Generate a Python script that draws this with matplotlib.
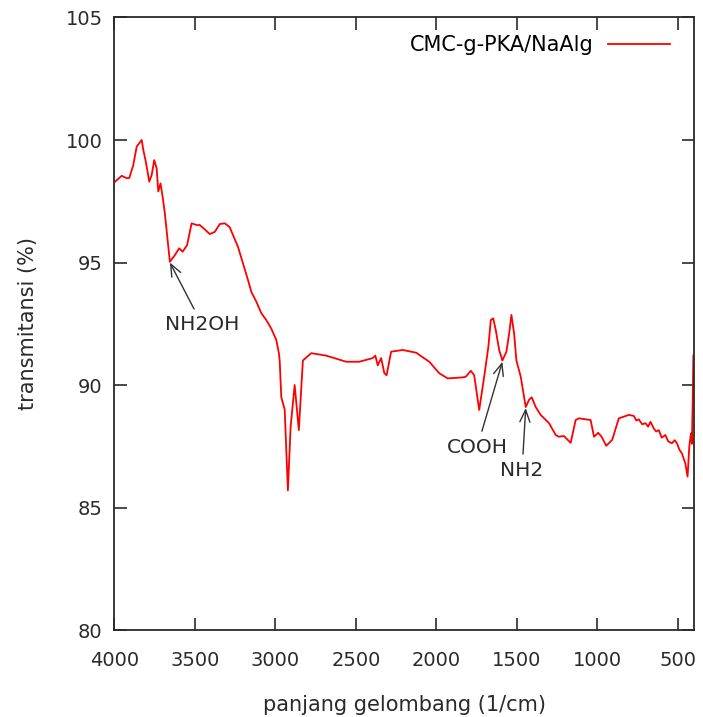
import matplotlib
matplotlib.use("Agg")
import matplotlib.pyplot as plt

wavenumber = [3995, 3954, 3923, 3907, 3882, 3861, 3845, 3830, 3820, 3804, 3783, 3768,
              3752, 3737, 3727, 3713, 3700, 3686, 3655, 3624, 3597, 3576, 3548, 3520,
              3489, 3469, 3438, 3407, 3376, 3345, 3314, 3283, 3263, 3232, 3201, 3170,
              3149, 3118, 3087, 3056, 3025, 2994, 2978, 2973, 2963, 2942, 2922, 2905,
              2880, 2854, 2829, 2777, 2684, 2560, 2478, 2395, 2379, 2364, 2343, 2323,
              2309, 2281, 2209, 2126, 2044, 1982, 1930, 1838, 1817, 1786, 1765, 1734,
              1703, 1677, 1662, 1647, 1631, 1610, 1590, 1565, 1548, 1534, 1517, 1503,
              1476, 1445, 1424, 1408, 1383, 1352, 1300, 1259, 1240, 1208, 1166, 1135,
              1115, 1042, 1021, 995, 974, 945, 908, 867, 836, 805, 774, 758, 743, 722,
              701, 685, 670, 650, 635, 619, 600, 578, 560, 537, 520, 506, 490, 475, 454,
              440, 429, 419, 413, 408, 404]
transmittance = [98.30, 98.54, 98.44, 98.45, 98.98, 99.73, 99.87, 100.0, 99.60, 99.10, 98.30, 98.57,
                 99.18, 98.84, 97.90, 98.23, 97.69, 97.00, 95.03, 95.30, 95.58, 95.44, 95.71, 96.60,
                 96.53, 96.53, 96.35, 96.16, 96.25, 96.57, 96.60, 96.44, 96.12, 95.64, 94.97, 94.29,
                 93.80, 93.40, 92.93, 92.65, 92.30, 91.84, 91.30, 91.0, 89.5, 89.0, 85.7, 88.3,
                 90.0, 88.16, 91.0, 91.3, 91.2, 90.95, 90.95, 91.1, 91.2, 90.8, 91.1, 90.48,
                 90.4, 91.36, 91.43, 91.32, 90.95, 90.48, 90.27, 90.31, 90.34, 90.58, 90.4, 88.98,
                 90.34, 91.56, 92.65, 92.72, 92.24, 91.43, 91.0, 91.36, 92.1, 92.86, 92.1, 91.0,
                 90.34, 89.1, 89.4, 89.5, 89.1, 88.78, 88.44, 87.96, 87.89, 87.92, 87.64, 88.57,
                 88.64, 88.57, 87.89, 88.05, 87.89, 87.52, 87.76, 88.64, 88.71, 88.78, 88.74, 88.55, 88.6, 88.4,
                 88.44, 88.3, 88.5, 88.23, 88.1, 88.16, 87.85, 87.96, 87.7, 87.62, 87.75, 87.62, 87.35, 87.21, 86.8,
                 86.26, 87.5, 88.03, 87.6, 89.4, 91.2]

x_ticks = [4000, 3500, 3000, 2500, 2000, 1500, 1000, 500]
y_ticks = [80, 85, 90, 95, 100, 105]

annotations = [
    ("NH2OH", (3655, 95.0), (3453, 92.45)),
    ("COOH", (1590, 90.95), (1747, 87.45)),
    ("NH2", (1445, 89.06), (1468, 86.51)),
]

plt.rcParams["font.family"] = ["DejaVu Sans"]
text_color = "#2a2a2a"

fig = plt.figure(figsize=(7.03, 7.17), dpi=100)
ax = fig.add_axes([0.1626, 0.1213, 0.9872 - 0.1626, 0.9756 - 0.1213])

ax.plot(wavenumber, transmittance, color="#ff0000", lw=1.3, label="CMC-g-PKA/NaAlg")
ax.set_xlim(4000, 400)
ax.set_ylim(80, 105)
ax.set_xticks(x_ticks)
ax.set_yticks(y_ticks)
ax.tick_params(direction="in", length=9, width=1.2, top=True, right=True,
               labelsize=14, colors=text_color)
ax.tick_params(axis="x", pad=15)
ax.tick_params(axis="y", pad=8.5)
for s in ax.spines.values():
    s.set_linewidth(1.3)
    s.set_color("#2a2a2a")

ax.set_xlabel("panjang gelombang (1/cm)", fontsize=15, labelpad=18, color=text_color)
ax.set_ylabel("transmitansi (%)", fontsize=15, labelpad=19.5, color=text_color)

for label, tip, txt in annotations:
    ax.annotate(label, xy=tip, xytext=txt, ha="center", va="center",
                fontsize=14.5, color=text_color,
                arrowprops=dict(arrowstyle="->,head_length=0.6,head_width=0.25",
                                color="#333333", lw=1.0, shrinkA=3, shrinkB=0))

leg = ax.legend(loc="upper right", frameon=False, markerfirst=False, fontsize=15,
                handlelength=3.0, handletextpad=0.67, borderpad=0, borderaxespad=0,
                bbox_to_anchor=(0.9586, 0.9715))

fig.savefig("out.png", dpi=100)
